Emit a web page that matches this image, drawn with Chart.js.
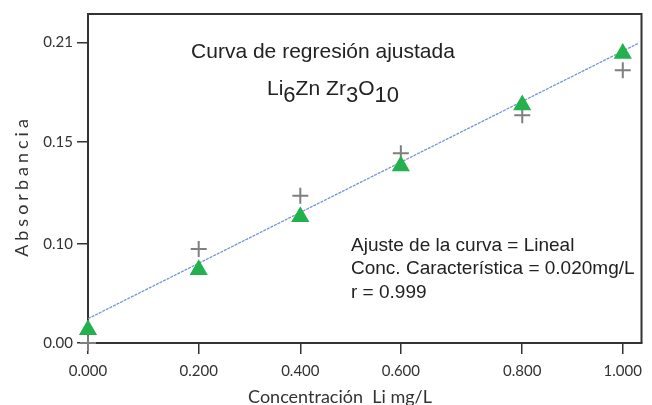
<!DOCTYPE html>
<html>
<head>
<meta charset="utf-8">
<script src="https://cdn.jsdelivr.net/npm/chart.js@4"></script>
<style>
  body { margin: 0; background: #fff; }
  #wrap { width: 652px; height: 405px; }
</style>
</head>
<body>
<div id="wrap"><canvas id="calChart" width="652" height="405"></canvas></div>
<script>
// standards, in axis units as placed by the instrument software
const concentrations = [0, 0.207, 0.397, 0.585, 0.812, 1.0];
const fitted = [0.0093, 0.0512, 0.0883, 0.1237, 0.1663, 0.2024];   // green triangles
const measured = [0.0, 0.0658, 0.1030, 0.1326, 0.1593, 0.1907];    // grey crosses
const fitLineX = [0, 1.028];
const fitLineY = [0.0170, 0.2093];

const xTicks = [0, 0.207, 0.397, 0.585, 0.812, 1.0];
const xTickLabels = ['0.000', '0.200', '0.400', '0.600', '0.800', '1.000'];
const yTicks = [0, 0.0691, 0.1407, 0.21];
const yTickLabels = ['0.00', '0.10', '0.15', '0.21'];

const titleText = 'Curva de regresión ajustada';
const formulaParts = [['Li', 0], ['6', 1], ['Zn', 0], [' ', 0], ['Zr', 0], ['3', 1], ['O', 0], ['10', 1]];
const notes = ['Ajuste de la curva = Lineal', 'Conc. Característica = 0.020mg/L', 'r = 0.999'];
const xTitle = 'Concentración  Li mg/L';
const yTitle = 'Absorbancia';

const toPoints = (xs, ys) => xs.map((x, i) => ({ x: x, y: ys[i] }));

const textPlugin = {
    id: 'texts',
    afterDraw(chart) {
        const ctx = chart.ctx;
        const a = chart.chartArea;
        ctx.save();
        // frame top/right
        ctx.strokeStyle = '#333';
        ctx.lineWidth = 2;
        ctx.beginPath();
        ctx.moveTo(a.left, a.top);
        ctx.lineTo(a.right, a.top);
        ctx.lineTo(a.right, a.bottom);
        ctx.stroke();

        ctx.fillStyle = '#222';
        ctx.textBaseline = 'alphabetic';
        ctx.font = '21px "Liberation Sans", Arial, sans-serif';
        ctx.textAlign = 'center';
        ctx.fillText(titleText, 323, 58);

        // formula with subscripts
        ctx.textAlign = 'left';
        let fx = 267;
        formulaParts.forEach(p => {
            ctx.font = (p[1] ? '22px' : '21px') + ' "Liberation Sans", Arial, sans-serif';
            const w = p[0] === ' ' ? 6 : ctx.measureText(p[0]).width;
            ctx.fillText(p[0], fx, p[1] ? 102 : 95);
            fx += w;
        });

        ctx.font = '19px "Liberation Sans", Arial, sans-serif';
        notes.forEach((t, i) => ctx.fillText(t, 351, 251 + i * 23.3));

        // axis titles
        ctx.fillStyle = '#333';
        ctx.font = '18px Lato, sans-serif';
        ctx.textAlign = 'center';
        ctx.fillText(xTitle, 340, 403);

        ctx.translate(22, 186);
        ctx.rotate(-Math.PI / 2);
        ctx.letterSpacing = '4px';
        ctx.textBaseline = 'middle';
        ctx.fillText(yTitle, 0, 0);
        ctx.restore();
    }
};

new Chart(document.getElementById('calChart'), {
    type: 'scatter',
    data: {
        datasets: [
            {
                label: 'Ajustado',
                data: toPoints(concentrations, fitted),
                pointStyle: 'triangle',
                pointRadius: 10.5,
                pointHoverRadius: 10.5,
                backgroundColor: '#22b14c',
                borderColor: '#22b14c',
                borderWidth: 0,
                clip: false,
                order: 0
            },
            {
                label: 'Medido',
                data: toPoints(concentrations, measured),
                pointStyle: 'cross',
                pointRadius: 8,
                pointHoverRadius: 8,
                borderColor: '#7f7f7f',
                borderWidth: 2,
                clip: false,
                order: 1
            },
            {
                label: 'Regresión',
                data: toPoints(fitLineX, fitLineY),
                showLine: true,
                pointRadius: 0,
                borderColor: '#7496d2',
                borderWidth: 1.3,
                borderDash: [3, 1],
                order: 2
            }
        ]
    },
    options: {
        responsive: false,
        animation: false,
        layout: { padding: { top: 14, right: 9, left: 0, bottom: 0 } },
        plugins: { legend: { display: false }, tooltip: { enabled: false } },
        scales: {
            x: {
                type: 'linear',
                min: 0,
                max: 1.035,
                afterBuildTicks: s => { s.ticks = xTicks.map(v => ({ value: v })); },
                afterFit: s => { s.height = 62; },
                ticks: {
                    autoSkip: false,
                    maxRotation: 0,
                    padding: 8,
                    color: '#333',
                    font: { family: 'Lato', size: 15 },
                    callback: (v, i) => xTickLabels[i]
                },
                grid: { display: true, drawOnChartArea: false, drawTicks: true, tickLength: 11, color: '#333', lineWidth: 1.5 },
                border: { display: true, color: '#333', width: 2 }
            },
            y: {
                min: 0,
                max: 0.23,
                afterBuildTicks: s => { s.ticks = yTicks.map(v => ({ value: v })); },
                afterFit: s => { s.width = 88; },
                ticks: {
                    autoSkip: false,
                    padding: 4,
                    color: '#333',
                    font: { family: 'Lato', size: 15 },
                    callback: (v, i) => yTickLabels[i]
                },
                grid: { display: true, drawOnChartArea: false, drawTicks: true, tickLength: 11, color: '#333', lineWidth: 1.5 },
                border: { display: true, color: '#333', width: 2 }
            }
        }
    },
    plugins: [textPlugin]
});
</script>
</body>
</html>
